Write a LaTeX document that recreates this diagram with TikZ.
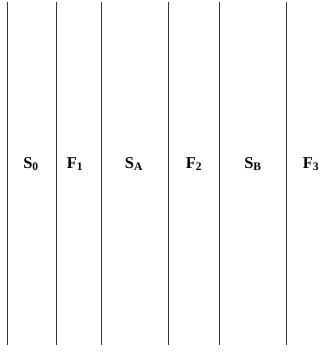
\documentclass[tikz,border=0pt]{standalone}
\usepackage{fontspec}
\setmainfont{Liberation Serif}
\usetikzlibrary{positioning}

\begin{document}
\begin{tikzpicture}[x=1pt,y=-1pt]
  \tikzstyle{wall}=[line width=1pt,draw=black!80]
  \tikzstyle{zone}=[font=\fontsize{16.5}{18}\selectfont\bfseries,inner sep=0pt]
  \useasboundingbox (0,0) rectangle (333,352);
  \foreach \n/\x in {a/7,b/56,c/101,d/168,e/219,f/286}{
    \coordinate (\n top) at (\x,2);
    \coordinate (\n bot) at (\x,345);
    \draw[wall] (\n top) -- (\n bot);
  }
  \node[zone] (s0) at (31,164) {S\textsubscript{0}};
  \node[zone] (f1) at (75,164) {F\textsubscript{1}};
  \node[zone] (sa) at (134,164) {S\textsubscript{A}};
  \node[zone] (f2) at (194,164) {F\textsubscript{2}};
  \node[zone] (sb) at (253,164) {S\textsubscript{B}};
  \node[zone] (f3) at (311,164) {F\textsubscript{3}};
\end{tikzpicture}
\end{document}
